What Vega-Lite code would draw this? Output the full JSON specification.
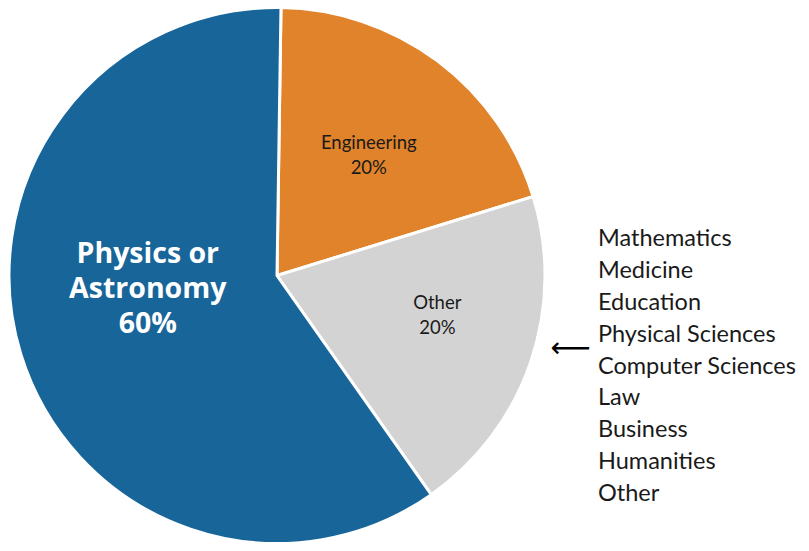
{
  "$schema": "https://vega.github.io/schema/vega-lite/v6.json",
  "padding": 0,
  "spacing": 44,
  "bounds": "flush",
  "background": "white",
  "config": {"view": {"stroke": null}},
  "datasets": {
    "slices": [
      {"field": "Engineering", "share": 20, "order": 1, "label": ["Engineering", "20%"]},
      {"field": "Other", "share": 20, "order": 2, "label": ["Other", "20%"]},
      {"field": "Physics or Astronomy", "share": 60, "order": 3, "label": ["Physics or", "Astronomy", "60%"]}
    ],
    "others": [
      {"name": "Mathematics"},
      {"name": "Medicine"},
      {"name": "Education"},
      {"name": "Physical Sciences"},
      {"name": "Computer Sciences"},
      {"name": "Law"},
      {"name": "Business"},
      {"name": "Humanities"},
      {"name": "Other"}
    ]
  },
  "hconcat": [
    {
      "width": 554,
      "height": 551,
      "data": {"name": "slices"},
      "encoding": {
        "theta": {"field": "share", "type": "quantitative", "stack": true, "scale": {"range": [0.015, 6.298]}},
        "order": {"field": "order", "type": "ordinal"}
      },
      "layer": [
        {
          "mark": {"type": "arc", "outerRadius": 268, "stroke": "white", "strokeWidth": 3},
          "encoding": {
            "color": {
              "field": "field", "type": "nominal", "legend": null,
              "scale": {"domain": ["Engineering", "Other", "Physics or Astronomy"], "range": ["#E0832A", "#D3D3D3", "#176599"]}
            }
          }
        },
        {
          "mark": {"type": "text", "radius": 153, "font": "Lato", "fontSize": 18.5, "lineHeight": 25, "color": "#1a1a1a", "baseline": "middle", "dy": -10},
          "encoding": {"text": {"condition": {"test": "datum.field === 'Engineering'", "field": "label"}, "value": ""}}
        },
        {
          "mark": {"type": "text", "radius": 162, "font": "Lato", "fontSize": 18.5, "lineHeight": 25, "color": "#1a1a1a", "baseline": "middle", "dy": -25, "dx": 7},
          "encoding": {"text": {"condition": {"test": "datum.field === 'Other'", "field": "label"}, "value": ""}}
        },
        {
          "mark": {"type": "text", "radius": 130, "font": "Open Sans", "fontWeight": "bold", "fontSize": 28.5, "lineHeight": 35, "color": "white", "baseline": "middle", "dy": -60, "dx": -5},
          "encoding": {"text": {"condition": {"test": "datum.field === 'Physics or Astronomy'", "field": "label"}, "value": ""}}
        }
      ]
    },
    {
      "width": 211,
      "height": 551,
      "data": {"name": "others"},
      "layer": [
        {
          "mark": {"type": "text", "align": "left", "baseline": "middle", "font": "Lato", "fontSize": 23.5, "color": "#1a1a1a"},
          "encoding": {
            "x": {"value": 0},
            "y": {
              "field": "name", "type": "nominal", "axis": null, "sort": null,
              "scale": {"type": "point", "range": [239, 494], "padding": 0}
            },
            "text": {"field": "name"}
          }
        },
        {
          "transform": [{"filter": "datum.name === 'Physical Sciences'"}],
          "mark": {"type": "text", "align": "right", "baseline": "middle", "font": "DejaVu Sans", "fontSize": 28, "color": "black", "dx": -7, "dy": 14},
          "encoding": {
            "x": {"value": 0},
            "y": {"field": "name", "type": "nominal", "axis": null, "sort": null, "scale": {"type": "point", "range": [239, 494], "padding": 0}},
            "text": {"value": "⟵"}
          }
        }
      ]
    }
  ]
}
